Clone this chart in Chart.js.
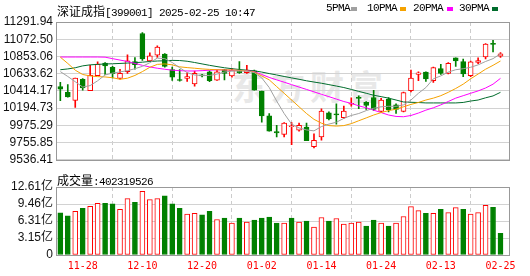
<!DOCTYPE html>
<html><head><meta charset="utf-8">
<script src="https://cdn.jsdelivr.net/npm/chart.js@4.4.1/dist/chart.umd.min.js"></script>
<style>
html,body{margin:0;padding:0;background:#fff;width:530px;height:276px;overflow:hidden;position:relative}
canvas{position:absolute;left:0;z-index:1}
#main{top:0}
#vol{top:170px}
.t{position:absolute;white-space:nowrap;color:#000;line-height:12px;z-index:2}
.cn{font:12px 'Noto Sans CJK SC'}
.mono{font:11px 'Liberation Mono';letter-spacing:-0.6px}
.wm{position:absolute;left:232px;top:66px;font:bold 34px/40px 'Noto Sans CJK SC';letter-spacing:5px;color:#e8e8e8;z-index:0;white-space:nowrap}
.lg{position:absolute;top:7px;width:6px;height:4px;z-index:2}
</style></head><body>
<div class="wm">东方财富</div>
<canvas id="main" width="530" height="170"></canvas>
<canvas id="vol" width="530" height="106"></canvas>
<div class="t" style="left:57px;top:2px"><span class="cn">深证成指</span><span class="mono">[399001] 2025-02-25 10:47</span></div>
<div class="t mono" style="left:326px;top:2px">5PMA</div><div class="lg" style="left:351px;background:#a0a0a0"></div>
<div class="t mono" style="left:367px;top:2px">10PMA</div><div class="lg" style="left:400px;background:#f5a200"></div>
<div class="t mono" style="left:413px;top:2px">20PMA</div><div class="lg" style="left:447px;background:#ff00ff"></div>
<div class="t mono" style="left:459px;top:2px">30PMA</div><div class="lg" style="left:492px;background:#006c2c"></div>
<div class="t" style="left:57px;top:171px"><span class="cn">成交量</span><span class="mono">:402319526</span></div>
<script>
// ---- data ----
const dates = ['11-25','11-26','11-27','11-28','11-29','12-02','12-03','12-04','12-05','12-06',
 '12-09','12-10','12-11','12-12','12-13','12-16','12-17','12-18','12-19','12-20',
 '12-23','12-24','12-25','12-26','12-27','12-30','12-31','01-02','01-03','01-06',
 '01-07','01-08','01-09','01-10','01-13','01-14','01-15','01-16','01-17','01-20',
 '01-21','01-22','01-23','01-24','01-27','02-05','02-06','02-07','02-10','02-11',
 '02-12','02-13','02-14','02-17','02-18','02-19','02-20','02-21','02-24','02-25'];
const tickDates = ['11-28','12-10','12-20','01-02','01-14','01-24','02-13','02-25'];
const openP  = [10469,10396,10293,10563,10416,10609,10768,10715,10572,10658,10789,11145,10797,10870,10883,10686,10559,10572,10502,10612,
 10658,10551,10686,10605,10670,10645,10670,10412,10097,9897,9860,9958,9913,9954,9704,9827,10134,10118,10073,10244,
 10326,10269,10330,10154,10310,10236,10154,10416,10625,10654,10543,10699,10637,10834,10789,10609,10776,10846,11018,10858];
const highP  = [10522,10494,10576,10572,10740,10785,10776,10727,10690,10875,10838,11157,10899,10989,10891,10719,10686,10645,10666,10625,
 10670,10678,10690,10699,10789,10740,10678,10412,10126,9974,10011,10011,10003,10003,9868,10187,10146,10248,10220,10326,
 10351,10277,10420,10318,10330,10248,10400,10678,10658,10658,10719,10752,10776,10834,10821,10793,10834,11018,11059,10903];
const lowP   = [10289,10334,10203,10424,10416,10609,10625,10580,10563,10637,10690,10801,10797,10842,10715,10547,10539,10535,10473,10592,
 10531,10547,10555,10588,10637,10637,10424,10015,9901,9827,9827,9729,9901,9780,9688,9786,10044,9991,10064,10220,
 10187,10179,10167,10138,10146,10126,10146,10400,10543,10535,10523,10625,10629,10727,10596,10596,10760,10821,10911,10842];
const closeP = [10437,10338,10576,10453,10613,10756,10731,10633,10637,10797,10748,10821,10862,10973,10727,10588,10547,10596,10637,10605,
 10543,10658,10637,10678,10645,10678,10424,10097,9901,9880,10003,9968,9975,9780,9786,10158,10056,10109,10158,10257,
 10318,10228,10179,10298,10175,10178,10392,10576,10645,10568,10711,10637,10764,10797,10629,10785,10801,11010,11006,10887];
const prevClose = 10490;
const ma5  = [10660,10598,10531,10463,10482,10543,10617,10641,10656,10672,10697,10727,10773,10832,10825,10776,10709,10647,10617,10611,
 10611,10629,10654,10666,10668,10666,10647,10580,10457,10285,10126,9991,9942,9917,9905,9960,9991,10015,10064,10101,
 10126,10163,10193,10212,10218,10218,10236,10298,10384,10457,10568,10605,10654,10684,10697,10715,10746,10789,10825,10887];
const ma10 = [10844,10764,10678,10623,10605,10596,10592,10582,10562,10576,10611,10660,10715,10752,10758,10746,10721,10711,10703,10694,
 10688,10684,10682,10681,10676,10668,10654,10605,10555,10469,10384,10298,10212,10126,10052,10003,9972,9966,9972,9997,
 10034,10070,10107,10138,10163,10181,10212,10242,10267,10298,10322,10353,10396,10445,10500,10568,10629,10690,10740,10795];
const ma20 = [10846,10846,10846,10846,10846,10846,10844,10825,10807,10789,10764,10740,10719,10703,10690,10678,10672,10668,10668,10672,
 10678,10682,10681,10678,10674,10671,10660,10623,10586,10555,10525,10494,10463,10433,10402,10371,10341,10310,10279,10255,
 10224,10199,10169,10138,10107,10089,10085,10101,10132,10169,10199,10236,10279,10322,10353,10384,10414,10451,10500,10574];
const ma30 = [10684,10694,10709,10733,10746,10752,10757,10760,10764,10769,10774,10780,10789,10795,10798,10803,10801,10792,10776,10758,
 10740,10724,10709,10697,10687,10678,10670,10654,10635,10617,10598,10580,10562,10543,10527,10512,10494,10476,10457,10433,
 10408,10384,10359,10341,10322,10298,10273,10269,10266,10261,10261,10261,10261,10261,10267,10285,10298,10326,10350,10396];
const volume = [7.81,7.26,8.12,8.67,9.04,9.60,9.60,9.47,8.49,10.46,9.78,11.81,10.27,10.46,10.95,9.47,8.67,7.57,7.75,7.44,
 8.12,6.58,6.83,5.91,6.83,6.09,6.46,6.83,7.01,5.91,5.91,6.83,6.09,6.27,5.17,6.95,6.27,6.77,5.72,5.91,
 6.09,5.35,6.46,5.91,5.35,5.91,7.14,8.98,8.24,7.75,7.75,8.49,7.87,8.80,8.49,7.57,7.87,9.23,8.86,4.02];
const priceTicks = [9536.41,9755.85,9975.29,10194.73,10414.17,10633.62,10853.06,11072.50,11291.94];
const priceTickLabels = ['9536.41','9755.85','9975.29','10194.73','10414.17','10633.62','10853.06','11072.50','11291.94'];
const volTicks = [0,3.1525,6.305,9.4575,12.61];
const volTickLabels = ['0','3.15亿','6.31亿','9.46亿','12.61亿'];

// ---- styling ----
const RED = '#ff0000', GRN = '#008000';
const tickIdx = tickDates.map(d => dates.indexOf(d));
const idx = dates.map((d, i) => i);
const candleUp = idx.map(i => closeP[i] >= openP[i]);
const volUp = idx.map(i => closeP[i] >= (i ? closeP[i - 1] : prevClose));

const frame = { id: 'frame', afterDraw(c) {
  const a = c.chartArea, x = c.ctx; x.save(); x.strokeStyle = '#999'; x.lineWidth = 1;
  x.strokeRect(Math.round(a.left) + 0.5, Math.round(a.top) + 0.5, Math.round(a.right - a.left), Math.round(a.bottom - a.top));
  x.restore(); } };

const xScale = (showLabels) => ({
  type: 'linear', min: -0.58, max: 60.14, offset: false,
  afterBuildTicks: s => { s.ticks = tickIdx.map(v => ({ value: v })); },
  ticks: { display: showLabels, autoSkip: false, maxRotation: 0, color: RED, padding: 5,
           font: { family: 'DejaVu Sans Mono', size: 10 },
           callback: v => dates[v] },
  grid: { color: '#cccccc', drawTicks: false },
  border: { display: false, dash: [4, 3] },
  afterFit: s => { s.height = showLabels ? 21 : 0; }
});

const line = (d, col) => ({ type: 'line', data: idx.map(i => ({ x: i, y: d[i] })), borderColor: col,
  borderWidth: 1, pointRadius: 0, tension: 0, order: 0 });

new Chart(document.getElementById('main'), {
  type: 'bar',
  data: { datasets: [
    line(ma5, '#a0a0a0'), line(ma10, '#f5a200'), line(ma20, '#ff00ff'), line(ma30, '#006c2c'),
    { data: idx.map(i => ({ x: i, y: [openP[i], closeP[i]] })), grouped: false, order: 1,
      barThickness: 5, minBarLength: 1, borderWidth: 1, borderSkipped: false,
      backgroundColor: idx.map(i => candleUp[i] ? '#ffffff' : GRN),
      borderColor: idx.map(i => candleUp[i] ? RED : GRN) },
    { data: idx.map(i => ({ x: i, y: [lowP[i], highP[i]] })), grouped: false, order: 2,
      barThickness: 1, borderWidth: 0,
      backgroundColor: idx.map(i => candleUp[i] ? RED : GRN) }
  ] },
  options: {
    responsive: false, animation: false, devicePixelRatio: 1,
    layout: { padding: { left: 0, right: 21, top: 22, bottom: 5 } },
    plugins: { legend: { display: false }, tooltip: { enabled: false } },
    scales: {
      x: xScale(false),
      y: { min: 9536.41, max: 11291.94,
           afterBuildTicks: s => { s.ticks = priceTicks.map(v => ({ value: v })); },
           ticks: { autoSkip: false, padding: 3, color: '#111', font: { family: 'Liberation Sans', size: 12 },
                    callback: (v, i) => priceTickLabels[i] },
           grid: { color: '#d2d2d2', drawTicks: false },
           border: { display: false },
           afterFit: s => { s.width = 56; } }
    }
  },
  plugins: [frame]
});

new Chart(document.getElementById('vol'), {
  type: 'bar',
  data: { datasets: [
    { data: idx.map(i => ({ x: i, y: volume[i] })), barThickness: 5, borderWidth: 1, borderSkipped: false,
      backgroundColor: idx.map(i => volUp[i] ? '#ffffff' : GRN),
      borderColor: idx.map(i => volUp[i] ? RED : GRN) }
  ] },
  options: {
    responsive: false, animation: false, devicePixelRatio: 1,
    layout: { padding: { left: 0, right: 21, top: 17, bottom: 0 } },
    plugins: { legend: { display: false }, tooltip: { enabled: false } },
    scales: {
      x: xScale(true),
      y: { min: 0, max: 12.61,
           afterBuildTicks: s => { s.ticks = volTicks.map(v => ({ value: v })); },
           ticks: { autoSkip: false, padding: 3, color: '#111',
                    font: { family: "'Liberation Sans', 'Noto Sans CJK SC'", size: 12 },
                    callback: (v, i) => volTickLabels[i] },
           grid: { color: '#d2d2d2', drawTicks: false },
           border: { display: false },
           afterFit: s => { s.width = 56; } }
    }
  },
  plugins: [frame]
});
</script>
</body></html>
